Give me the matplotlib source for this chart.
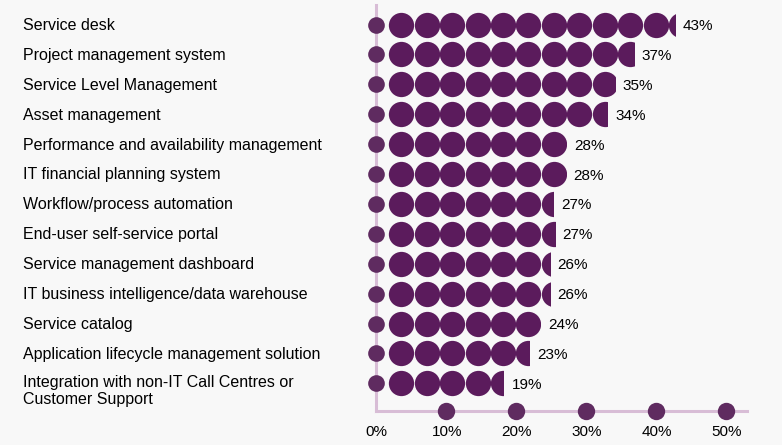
import numpy as np
import matplotlib.pyplot as plt
from matplotlib.patches import Rectangle

plt.rcParams['font.family'] = ['Liberation Sans', 'DejaVu Sans']

# data
categories = [
    "Service desk",
    "Project management system",
    "Service Level Management",
    "Asset management",
    "Performance and availability management",
    "IT financial planning system",
    "Workflow/process automation",
    "End-user self-service portal",
    "Service management dashboard",
    "IT business intelligence/data warehouse",
    "Service catalog",
    "Application lifecycle management solution",
    "Integration with non-IT Call Centres or\nCustomer Support",
]
# printed labels
values = [43, 37, 35, 34, 28, 28, 27, 27, 26, 26, 24, 23, 19]
# bar lengths as drawn
bar_lengths = [42.7, 36.8, 34.1, 33.0, 27.2, 27.1, 25.3, 25.5, 24.8, 24.8, 23.4, 21.9, 18.2]
tick_values = [0, 10, 20, 30, 40, 50]
tick_labels = ["0%", "10%", "20%", "30%", "40%", "50%"]

# style
dot_color = '#5b1b5c'
small_dot_color = '#5f2b60'
axis_color = '#d8bdd6'
bg_color = '#f8f8f8'
pitch = 3.63        # distance between circle centres, in %
row_top = 24.5      # centre of first row, px from top
row_step = 29.9

fig = plt.figure(figsize=(7.82, 4.45), dpi=100)
fig.patch.set_facecolor(bg_color)
ax = fig.add_axes([0, 0, 1, 1])
ax.set_facecolor(bg_color)
ax.set_xlim(-376 / 7, (782 - 376) / 7)
ax.set_ylim(445, 0)
ax.axis('off')

# axis lines
axis_y = 411
ax.plot([0, 0], [5, axis_y], color=axis_color, lw=2.2, zorder=1)
ax.plot([0, 53], [axis_y, axis_y], color=axis_color, lw=2.2, zorder=1)

for i, (cat, v, L) in enumerate(zip(categories, values, bar_lengths)):
    yc = row_top + i * row_step
    # small dot on the axis
    ax.scatter([0], [yc], s=12 ** 2, color=small_dot_color, lw=0, zorder=3)
    # row of circles clipped at the bar length
    n = int(np.ceil(L / pitch))
    xs = pitch * np.arange(1, n + 1)
    sc = ax.scatter(xs, [yc] * n, s=18.2 ** 2, color=dot_color, lw=0, zorder=3)
    clip = Rectangle((0, yc - 15), L, 30, transform=ax.transData)
    sc.set_clip_path(clip)
    ax.text(L + 1.15, yc + 1.5, f"{v}%", fontsize=11, va='center', ha='left', color='black')
    if '\n' in cat:
        ax.text(-50.4, yc - 8.5, cat, fontsize=11.5, va='top', ha='left',
                color='black', linespacing=1.15)
    else:
        ax.text(-50.4, yc + 1, cat, fontsize=11.5, va='center', ha='left', color='black')

# bottom tick dots and labels
ax.scatter(tick_values[1:], [axis_y] * (len(tick_values) - 1), s=12.5 ** 2,
           color=small_dot_color, lw=0, zorder=3)
for t, lab in zip(tick_values, tick_labels):
    ax.text(t + 0.1, 432, lab, fontsize=11, ha='center', va='center', color='black')

fig.savefig("out.png", dpi=100, facecolor=bg_color)
